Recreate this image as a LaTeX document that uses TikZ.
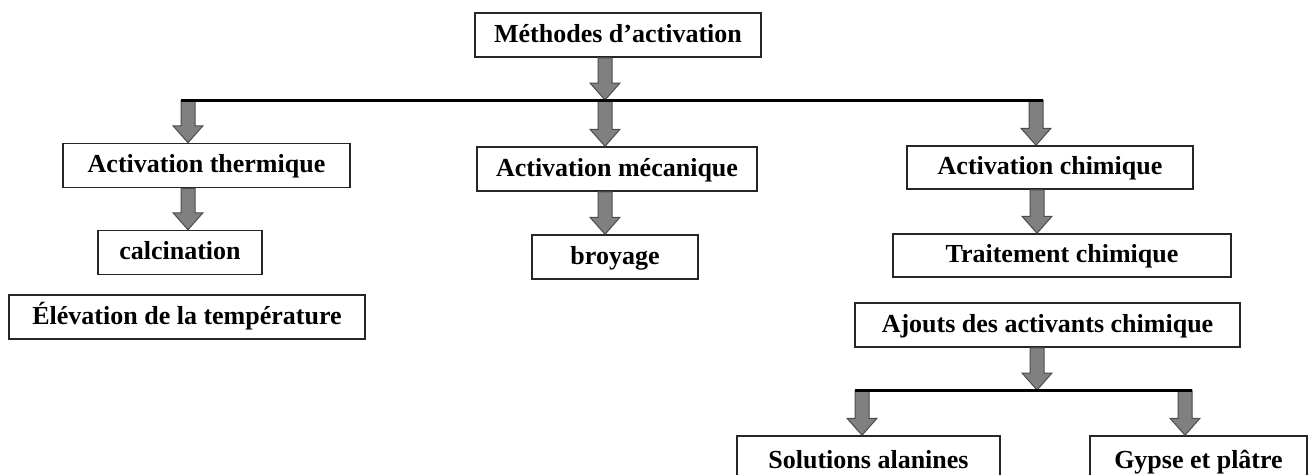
\documentclass[tikz,border=0pt]{standalone}
\usepackage{fontspec}
\setmainfont{Liberation Serif}
\usetikzlibrary{calc}

\tikzset{
  boite/.style={draw=black!85, line width=1.5pt, fill=white, minimum height=44pt,
    inner sep=0pt, text height=19pt, text depth=5pt,
    font=\fontsize{26}{30}\selectfont\bfseries},
  barre/.style={line width=3pt, black},
  fleche/.style={fill=gray, draw=black!70, line width=1pt},
}
% fleche pleine de #1 vers #2 (vers le bas)
\newcommand\grossefleche[2]{%
  \draw[fleche] let \p1=(#1), \p2=(#2) in
    (\x1-7pt,\y1) -- (\x1+7pt,\y1) -- (\x1+7pt,\y2+17pt) -- (\x1+15pt,\y2+17pt)
    -- (\x1,\y2) -- (\x1-15pt,\y2+17pt) -- (\x1-7pt,\y2+17pt) -- cycle;}

\begin{document}
\begin{tikzpicture}[x=1pt, y=-1pt]
    \useasboundingbox (0,0) rectangle (1308,474);
    \clip (0,0) rectangle (1308,474);

    % Boite principale
    \node[boite, minimum width=286pt] (meth) at (618,35) {Méthodes d’activation};

    % Barre du haut
    \coordinate (gauche) at (181,100);
    \coordinate (droite) at (1043,100);
    \coordinate (g1) at (188,100);
    \coordinate (m1) at (605,100);
    \coordinate (d1) at (1036,100);

    % Trois activations
    \node[boite, minimum width=287pt] (therm) at (206.5,165.5) {Activation thermique};
    \node[boite, minimum width=280pt] (meca) at (617,169) {Activation mécanique};
    \node[boite, minimum width=286pt, minimum height=43pt] (chim) at (1050,167.5) {Activation chimique};

    % Sous-boites
    \node[boite, minimum width=164pt] (calc) at (180,252.5) {calcination};
    \node[boite, minimum width=356pt] (elev) at (187,317) {Élévation de la température};
    \node[boite, minimum width=166pt] (broy) at (615,257) {broyage};
    \node[boite, minimum width=338pt, minimum height=43pt] (trait) at (1062,255.5) {Traitement chimique};
    \node[boite, minimum width=385pt] (ajout) at (1047.5,325) {Ajouts des activants chimique};

    % Barre du bas
    \coordinate (bg) at (855,390);
    \coordinate (bd) at (1192,390);
    \coordinate (s1) at (862,390);
    \coordinate (s2) at (1185,390);
    \coordinate (s0) at (1037,390);

    \node[boite, minimum width=263pt, minimum height=50pt] (sol) at (868.5,461) {Solutions alanines};
    \node[boite, minimum width=217pt, minimum height=50pt] (gyp) at (1198.5,461) {Gypse et plâtre};

    % Fleches
    \grossefleche{m1 |- meth.south}{m1}
    \grossefleche{g1}{g1 |- therm.north}
    \grossefleche{m1}{m1 |- meca.north}
    \grossefleche{d1}{d1 |- chim.north}
    \grossefleche{g1 |- therm.south}{g1 |- calc.north}
    \grossefleche{m1 |- meca.south}{m1 |- broy.north}
    \grossefleche{s0 |- chim.south}{s0 |- trait.north}
    \grossefleche{s0 |- ajout.south}{s0}
    \grossefleche{s1}{s1 |- sol.north}
    \grossefleche{s2}{s2 |- gyp.north}

    % Barres
    \draw[barre] (gauche) -- (droite);
    \draw[barre] (bg) -- (bd);
\end{tikzpicture}
\end{document}
